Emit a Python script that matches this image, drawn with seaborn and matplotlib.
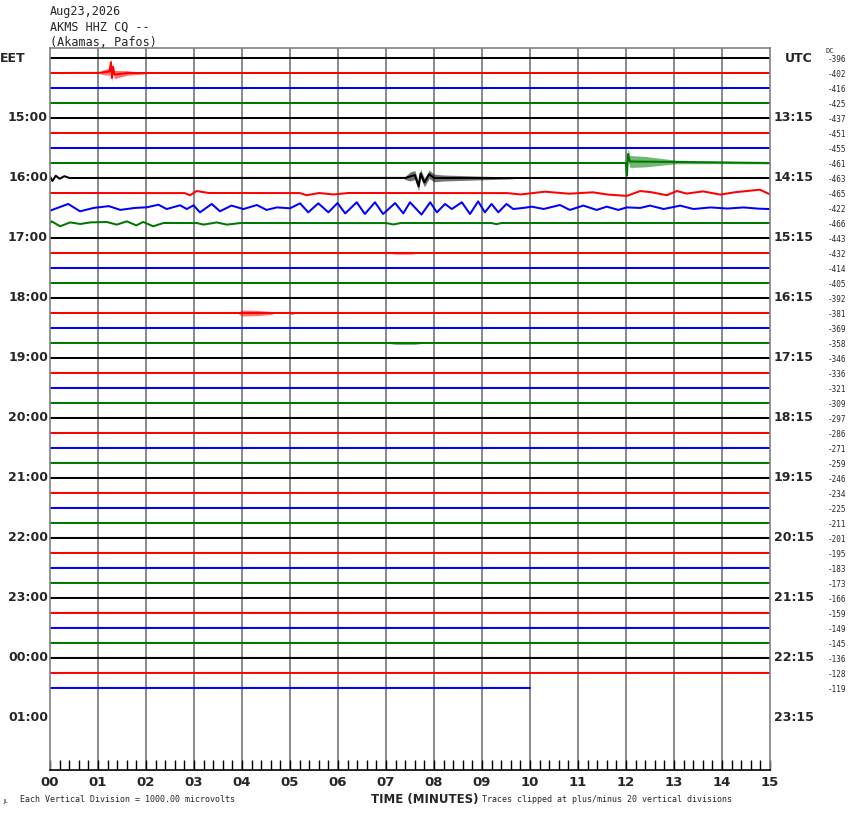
import numpy as np
import pandas as pd
import matplotlib
matplotlib.use("Agg")
import matplotlib.pyplot as plt
import matplotlib.transforms as mtransforms
import seaborn as sns

# --- chart data ---
station_lines = ["Aug23,2026", "AKMS HHZ CQ --", "(Akamas, Pafos)"]
trace_colors = ["black", "red", "blue", "#007800"]
n_traces = 43
last_trace_end = 10.0  # minutes, last line is cut short
eet_labels = ["EET", "15:00", "16:00", "17:00", "18:00", "19:00", "20:00",
              "21:00", "22:00", "23:00", "00:00", "01:00"]
utc_labels = ["UTC", "13:15", "14:15", "15:15", "16:15", "17:15", "18:15",
              "19:15", "20:15", "21:15", "22:15", "23:15"]
dc_values = [-396, -402, -416, -425, -437, -451, -455, -461, -463, -465, -422,
             -466, -443, -432, -414, -405, -392, -381, -369, -358, -346, -336,
             -321, -309, -297, -286, -271, -259, -246, -234, -225, -211, -201,
             -195, -183, -173, -166, -159, -149, -145, -136, -128, -119]
minute_labels = ["00", "01", "02", "03", "04", "05", "06", "07", "08", "09",
                 "10", "11", "12", "13", "14", "15"]

# trace waveforms: minute, offset (in trace spacings, + is up)
red_1415_min = [0, 1.0, 1.24, 1.27, 1.29, 1.31, 1.34, 1.6, 15]
red_1415_amp = [0, 0, 0.1, 0.71, -0.33, 0.4, -0.1, 0, 0]
green_1545_min = [0, 12.0, 12.02, 12.04, 12.08, 15]
green_1545_amp = [0, 0, -0.84, 0.6, 0.1, 0]
black_1600_min = [0, 0.05, 0.12, 0.2, 0.3, 0.4, 7.4, 7.6, 7.68, 7.72, 7.8,
                  7.9, 8.0, 9.0, 15]
black_1600_amp = [0.1, -0.2, 0.15, -0.05, 0.12, 0, 0, 0.2, -0.55, 0.3, -0.3,
                  0.25, 0, 0, 0]
red_1615_min = [0, 2.8, 2.92, 3.05, 3.3, 5.2, 5.35, 5.6, 5.9, 6.2, 9.5, 9.8,
                10.3, 10.8, 11.3, 11.6, 12.01, 12.29, 12.5, 12.85, 13.06,
                13.26, 13.6, 13.96, 14.24, 14.79, 15.0]
red_1615_amp = [0, 0, -0.15, 0.13, 0, 0, -0.15, 0, -0.1, 0, 0, -0.1, 0.09,
                -0.05, 0.05, -0.1, -0.2, 0.13, 0.07, -0.15, 0.13, -0.04, 0.11,
                -0.11, 0.04, 0.22, -0.09]
blue_1630_min = [0.0, 0.38, 0.625, 0.9, 1.22, 1.46, 1.74, 2.01, 2.26, 2.43,
                 2.71, 2.85, 2.99, 3.125, 3.37, 3.54, 3.78, 4.03, 4.31, 4.51,
                 4.72, 5.0, 5.21, 5.38, 5.59, 5.8, 5.99, 6.15, 6.39, 6.56,
                 6.77, 6.94, 7.19, 7.36, 7.5, 7.74, 7.92, 8.06, 8.23, 8.37,
                 8.58, 8.75, 8.92, 9.06, 9.2, 9.34, 9.51, 9.65, 9.86, 10.03,
                 10.28, 10.625, 10.83, 11.11, 11.39, 11.6, 11.84, 12.01,
                 12.29, 12.5, 12.78, 13.125, 13.4, 13.75, 14.1, 14.44, 14.72,
                 15.0]
blue_1630_amp = [-0.18, 0.27, -0.22, 0, 0.13, -0.13, 0, 0.04, 0.22, -0.07,
                 0.18, -0.07, 0.18, -0.29, 0.27, -0.22, 0.16, -0.07, 0.2,
                 -0.13, 0.04, -0.02, 0.31, -0.29, 0.31, -0.29, 0.33, -0.36,
                 0.38, -0.4, 0.38, -0.4, 0.33, -0.36, 0.38, -0.44, 0.38,
                 -0.29, 0.27, -0.07, 0.38, -0.4, 0.44, -0.29, 0.27, -0.29,
                 0.27, -0.07, 0, 0.09, -0.07, 0.2, -0.13, 0.16, -0.13, 0.09,
                 -0.13, 0.04, 0, 0.16, -0.07, 0.16, -0.07, 0.04, -0.04, 0.04,
                 -0.04, -0.07]
green_1645_min = [0, 0.035, 0.21, 0.42, 0.625, 0.83, 1.18, 1.39, 1.6, 1.8,
                  1.94, 2.15, 2.36, 3.06, 3.19, 3.47, 3.68, 3.96, 7.0, 7.15,
                  7.3, 9.2, 9.3, 9.4, 15]
green_1645_amp = [0, 0.11, -0.22, 0.04, -0.07, 0.04, 0.07, -0.11, 0.11,
                  -0.16, 0.07, -0.22, 0, 0, -0.11, 0.04, -0.11, 0, 0, -0.1,
                  0, 0, -0.08, 0, 0]

wave_traces = {1: (red_1415_min, red_1415_amp),
               7: (green_1545_min, green_1545_amp),
               8: (black_1600_min, black_1600_amp),
               9: (red_1615_min, red_1615_amp),
               10: (blue_1630_min, blue_1630_amp),
               11: (green_1645_min, green_1645_amp)}

# noise bursts: minute, half-width of the noisy band (trace spacings)
burst_red_1415_min = [1.0, 1.1, 1.3, 1.5, 1.7, 2.0, 2.1]
burst_red_1415_env = [0, 0.15, 0.3, 0.2, 0.12, 0.06, 0]
burst_green_1545_min = [12.0, 12.05, 12.4, 12.75, 13.05, 14.0, 15.0]
burst_green_1545_env = [0, 0.4, 0.35, 0.22, 0.12, 0.08, 0.06]
burst_black_1600_min = [7.35, 7.5, 7.9, 8.2, 8.9, 9.6, 9.8]
burst_black_1600_env = [0, 0.3, 0.28, 0.2, 0.13, 0.06, 0]
burst_red_1815_min = [3.9, 4.0, 4.3, 4.6, 4.7, 4.95, 5.05, 5.1]
burst_red_1815_env = [0, 0.2, 0.18, 0.1, 0, 0, 0.12, 0]
burst_red_1715_min = [7.0, 7.2, 7.5, 7.7]
burst_red_1715_env = [0, 0.08, 0.08, 0]
burst_green_1845_min = [7.0, 7.2, 7.6, 7.8]
burst_green_1845_env = [0, 0.1, 0.1, 0]

burst_traces = {1: (burst_red_1415_min, burst_red_1415_env),
                7: (burst_green_1545_min, burst_green_1545_env),
                8: (burst_black_1600_min, burst_black_1600_env),
                13: (burst_red_1715_min, burst_red_1715_env),
                17: (burst_red_1815_min, burst_red_1815_env),
                19: (burst_green_1845_min, burst_green_1845_env)}

# --- figure ---
sns.set_style("white")
plt.rcParams["font.family"] = ["DejaVu Sans"]

W, H = 850, 814
fig = plt.figure(figsize=(W / 100, H / 100), dpi=100)
ax = fig.add_axes([50 / W, 1 - 770 / H, 720 / W, 722 / H])

xs = np.linspace(0, 15, 3001)
for i in range(n_traces):
    color = trace_colors[i % 4]
    end = last_trace_end if i == n_traces - 1 else 15.0
    x = xs[xs <= end]
    if i in wave_traces:
        wm, wa = wave_traces[i]
        off = np.interp(x, wm, wa)
    else:
        off = np.zeros_like(x)
    df = pd.DataFrame({"minute": x, "y": i - off})
    sns.lineplot(data=df, x="minute", y="y", ax=ax, color=color,
                 linewidth=1.45, sort=False, estimator=None)
    if i in burst_traces:
        bm, be = burst_traces[i]
        env = np.interp(x, bm, be, left=0, right=0)
        ax.fill_between(x, i - off - env, i - off + env, color=color,
                        linewidth=0, alpha=0.55)

for m in range(1, 15):
    ax.axvline(m, color="#808080", linewidth=1.3, zorder=0)

ax.set_xlim(0, 15)
ax.set_ylim(47.47, -0.667)
ax.set_xlabel("")
ax.set_ylabel("")
ax.set_yticks([])
ax.set_xticks(range(16))
ax.set_xticklabels(minute_labels, fontweight="bold", fontsize=9.5)
ax.set_xticks(np.arange(0, 15.01, 0.2), minor=True)
ax.tick_params(axis="x", which="both", direction="in", length=7, width=1,
               color="black", pad=4, bottom=True)
for side in ["left", "right", "top"]:
    ax.spines[side].set_color("#808080")
    ax.spines[side].set_linewidth(1.2)
ax.spines["bottom"].set_color("black")
ax.spines["bottom"].set_linewidth(1.2)

# left EET / right UTC labels
tr = mtransforms.blended_transform_factory(fig.transFigure, ax.transData)
for k, lab in enumerate(eet_labels):
    if k == 0:
        ax.text(0 / W, 0, lab, transform=tr, ha="left", va="center",
                fontsize=9, fontweight="bold")
    else:
        ax.text(48 / W, 4 * k, lab, transform=tr, ha="right", va="center",
                fontsize=9, fontweight="bold")
for k, lab in enumerate(utc_labels):
    xpos = 785 if k == 0 else 774
    ax.text(xpos / W, 4 * k, lab, transform=tr, ha="left", va="center",
            fontsize=9, fontweight="bold")
for i, v in enumerate(dc_values):
    ax.text(846 / W, i + 0.1, str(v), transform=tr, ha="right", va="center",
            fontsize=5.5, family="DejaVu Sans Mono")
ax.text(826 / W, -0.45, "DC", transform=tr, ha="left", va="center",
        fontsize=5, family="DejaVu Sans Mono")

# header
for k, line in enumerate(station_lines):
    fig.text(50 / W, 1 - (12 + 15 * k) / H, line, ha="left", va="center",
             fontsize=8.5, family="DejaVu Sans Mono")

# footer
fig.text(425 / W, 1 - 799 / H, "TIME (MINUTES)", ha="center", va="center",
         fontsize=8.5, fontweight="bold")
fig.text(20 / W, 1 - 800 / H, "Each Vertical Division = 1000.00 microvolts",
         ha="left", va="center", fontsize=6, family="DejaVu Sans Mono")
fig.text(482 / W, 1 - 800 / H,
         "Traces clipped at plus/minus 20 vertical divisions",
         ha="left", va="center", fontsize=6, family="DejaVu Sans Mono")
fig.text(3 / W, 1 - 802 / H, "JL", ha="left", va="center", fontsize=4)

fig.savefig("out.png", dpi=100)
